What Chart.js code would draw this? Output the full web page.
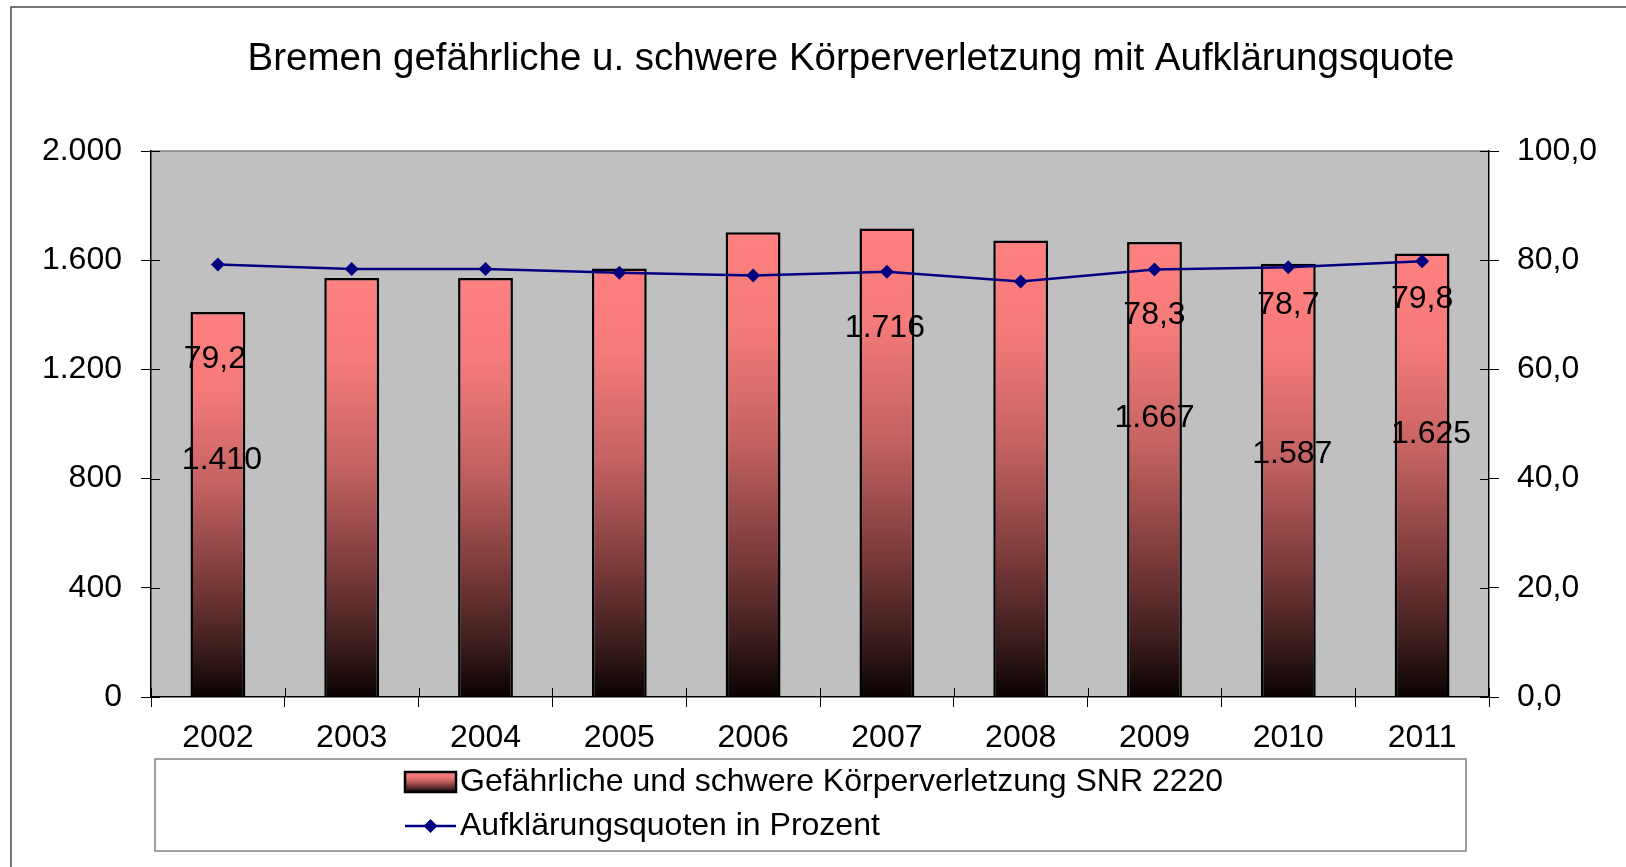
<!DOCTYPE html>
<html>
<head>
<meta charset="utf-8">
<script src="https://cdn.jsdelivr.net/npm/chart.js@4/dist/chart.umd.min.js"></script>
<style>
  html, body { margin: 0; padding: 0; background: #ffffff; }
  canvas { display: block; }
</style>
</head>
<body>
<canvas id="c" width="1626" height="867"></canvas>
<script>
// ---------- data ----------
const categories = ['2002', '2003', '2004', '2005', '2006', '2007', '2008', '2009', '2010', '2011'];
const casesValues = [1410, 1535, 1535, 1570, 1702, 1716, 1672, 1667, 1587, 1625];
const clearanceRates = [79.2, 78.4, 78.4, 77.7, 77.2, 77.9, 76.1, 78.3, 78.7, 79.8];
const leftTicks = [0, 400, 800, 1200, 1600, 2000];
const rightTicks = [0, 20, 40, 60, 80, 100];
const barSeriesName = 'Gefährliche und schwere Körperverletzung SNR 2220';
const lineSeriesName = 'Aufklärungsquoten in Prozent';
const chartTitle = 'Bremen gefährliche u. schwere Körperverletzung mit Aufklärungsquote';
// which data labels are visible (indices into categories)
const barLabelIdx = [0, 5, 7, 8, 9];
const lineLabelIdx = [0, 7, 8, 9];

// ---------- label placement (pixel offsets from the mark, layout only) ----------
const barLabelOffsets = { 0: [4, 148], 5: [-2, 100], 7: [0, 176], 8: [4, 190], 9: [9, 181] };
const lineLabelOffsets = { 0: [-3, 95], 7: [0, 46], 8: [0, 38], 9: [0, 38] };

const FONT = "'Liberation Sans', Arial, sans-serif";
const FS = 32;
const fmtThousands = v => Math.round(v).toString().replace(/\B(?=(\d{3})+(?!\d))/g, '.');
const fmtPct = v => v.toFixed(1).replace('.', ',');

function barGradient(ctx, top, bottom) {
  const g = ctx.createLinearGradient(0, top, 0, bottom);
  g.addColorStop(0, '#FF8080');
  g.addColorStop(0.2, '#F57A7A');
  g.addColorStop(0.45, '#C46262');
  g.addColorStop(0.7, '#7A3A3A');
  g.addColorStop(0.88, '#3A1C1C');
  g.addColorStop(1, '#0A0202');
  return g;
}

function drawDiamond(ctx, x, y, r) {
  ctx.beginPath();
  ctx.moveTo(x, y - r);
  ctx.lineTo(x + r, y);
  ctx.lineTo(x, y + r);
  ctx.lineTo(x - r, y);
  ctx.closePath();
  ctx.fill();
}

const framePlugin = {
  id: 'frame',
  beforeDraw(chart) {
    const { ctx, chartArea: a } = chart;
    ctx.save();
    ctx.fillStyle = '#ffffff';
    ctx.fillRect(0, 0, chart.width, chart.height);
    // outer chart border (top and left visible)
    ctx.strokeStyle = '#4a4a4a';
    ctx.lineWidth = 1.5;
    ctx.beginPath();
    ctx.moveTo(11, chart.height + 5);
    ctx.lineTo(11, 7);
    ctx.lineTo(chart.width + 5, 7);
    ctx.stroke();
    // title
    ctx.fillStyle = '#000000';
    ctx.font = '38.5px ' + FONT;
    ctx.textAlign = 'center';
    ctx.textBaseline = 'middle';
    ctx.fillText(chartTitle, 851, 59);
    // plot area
    ctx.fillStyle = '#C0C0C0';
    ctx.fillRect(a.left, a.top, a.right - a.left, a.bottom - a.top);
    ctx.strokeStyle = '#808080';
    ctx.lineWidth = 1.5;
    ctx.beginPath();
    ctx.moveTo(a.left, a.top);
    ctx.lineTo(a.right, a.top);
    ctx.stroke();
    ctx.restore();
  },
  afterDraw(chart) {
    const { ctx, chartArea: a, scales } = chart;
    ctx.save();
    ctx.strokeStyle = '#000000';
    ctx.lineWidth = 1;
    // inner halves of the crossing tick marks
    ctx.beginPath();
    leftTicks.forEach(v => {
      const y = Math.round(scales.y.getPixelForValue(v)) + 0.5;
      ctx.moveTo(a.left, y); ctx.lineTo(a.left + 9, y);
    });
    rightTicks.forEach(v => {
      const y = Math.round(scales.y1.getPixelForValue(v)) + 0.5;
      ctx.moveTo(a.right, y); ctx.lineTo(a.right - 9, y);
    });
    const n = categories.length;
    for (let i = 0; i <= n; i++) {
      const x = Math.round(a.left + i * (a.right - a.left) / n) + 0.5;
      ctx.moveTo(x, a.bottom); ctx.lineTo(x, a.bottom - 9);
    }
    ctx.stroke();

    // legend box
    const lx = a.left + 4, rx = a.right - 23;
    const ty = scales.x.bottom + 12, by = chart.height - 16;
    ctx.strokeStyle = '#808080';
    ctx.lineWidth = 1.5;
    ctx.strokeRect(lx, ty, rx - lx, by - ty);
    const sx = 405, sw = 51;
    const row1 = ty + 23, row2 = ty + 67;
    // bar swatch
    ctx.fillStyle = barGradient(ctx, row1 - 10, row1 + 10);
    ctx.fillRect(sx, row1 - 10, sw, 20);
    ctx.strokeStyle = '#000000';
    ctx.lineWidth = 2.5;
    ctx.strokeRect(sx, row1 - 10, sw, 20);
    // line swatch
    ctx.strokeStyle = '#000080';
    ctx.lineWidth = 2.5;
    ctx.beginPath();
    ctx.moveTo(sx, row2); ctx.lineTo(sx + sw, row2);
    ctx.stroke();
    ctx.fillStyle = '#000080';
    drawDiamond(ctx, sx + sw / 2, row2, 7);
    // legend texts
    ctx.fillStyle = '#000000';
    ctx.font = FS + 'px ' + FONT;
    ctx.textAlign = 'left';
    ctx.textBaseline = 'middle';
    ctx.fillText(chart.data.datasets[1].label, sx + sw + 4, row1);
    ctx.fillText(chart.data.datasets[0].label, sx + sw + 4, row2);
    ctx.restore();
  },
  afterDatasetsDraw(chart) {
    const { ctx } = chart;
    ctx.save();
    ctx.fillStyle = '#000000';
    ctx.font = FS + 'px ' + FONT;
    ctx.textAlign = 'center';
    ctx.textBaseline = 'middle';
    const lineMeta = chart.getDatasetMeta(0);
    const barMeta = chart.getDatasetMeta(1);
    barLabelIdx.forEach(i => {
      const el = barMeta.data[i];
      const [dx, dy] = barLabelOffsets[i];
      ctx.fillText(fmtThousands(casesValues[i]), el.x + dx, el.y + dy);
    });
    lineLabelIdx.forEach(i => {
      const el = lineMeta.data[i];
      const [dx, dy] = lineLabelOffsets[i];
      ctx.fillText(fmtPct(clearanceRates[i]), el.x + dx, el.y + dy);
    });
    ctx.restore();
  }
};

new Chart(document.getElementById('c'), {
  data: {
    labels: categories,
    datasets: [
      {
        type: 'line',
        label: lineSeriesName,
        data: clearanceRates,
        yAxisID: 'y1',
        order: 0,
        borderColor: '#000080',
        backgroundColor: '#000080',
        borderWidth: 2.5,
        pointStyle: 'rectRot',
        pointRadius: 7,
        pointBorderWidth: 0,
        pointBackgroundColor: '#000080',
        tension: 0
      },
      {
        type: 'bar',
        label: barSeriesName,
        data: casesValues,
        yAxisID: 'y',
        order: 1,
        barPercentage: 0.41,
        categoryPercentage: 1.0,
        borderColor: '#000000',
        borderWidth: 2.5,
        borderSkipped: 'bottom',
        backgroundColor: (c) => {
          const chart = c.chart;
          if (!chart.chartArea || c.type !== 'data') return '#FF8080';
          const top = chart.scales.y.getPixelForValue(c.raw);
          const bottom = chart.scales.y.getPixelForValue(0);
          return barGradient(chart.ctx, top, bottom);
        }
      }
    ]
  },
  options: {
    responsive: false,
    animation: false,
    events: [],
    layout: { padding: { left: 0, right: 0, top: 151, bottom: 120 } },
    plugins: {
      legend: { display: false },
      tooltip: { enabled: false },
      title: { display: false }
    },
    scales: {
      x: {
        position: 'bottom',
        offset: true,
        afterFit: s => { s.height = 50; },
        grid: { drawOnChartArea: false, drawTicks: true, tickLength: 10, color: '#000000', offset: true },
        border: { display: true, color: '#000000', width: 1.5 },
        ticks: { color: '#000000', font: { family: FONT, size: FS }, padding: 12, maxRotation: 0 }
      },
      y: {
        position: 'left',
        min: leftTicks[0],
        max: leftTicks[leftTicks.length - 1],
        afterFit: s => { s.width = 151; },
        afterBuildTicks: s => { s.ticks = leftTicks.map(v => ({ value: v })); },
        grid: { drawOnChartArea: false, drawTicks: true, tickLength: 10, color: '#000000' },
        border: { display: true, color: '#000000', width: 1.5 },
        ticks: { color: '#000000', font: { family: FONT, size: FS }, padding: 19, callback: v => fmtThousands(v) }
      },
      y1: {
        position: 'right',
        min: rightTicks[0],
        max: rightTicks[rightTicks.length - 1],
        afterFit: s => { s.width = 137; },
        afterBuildTicks: s => { s.ticks = rightTicks.map(v => ({ value: v })); },
        grid: { drawOnChartArea: false, drawTicks: true, tickLength: 10, color: '#000000' },
        border: { display: true, color: '#000000', width: 1.5 },
        ticks: { color: '#000000', font: { family: FONT, size: FS }, padding: 18, callback: v => fmtPct(v) }
      }
    }
  },
  plugins: [framePlugin]
});
</script>
</body>
</html>
